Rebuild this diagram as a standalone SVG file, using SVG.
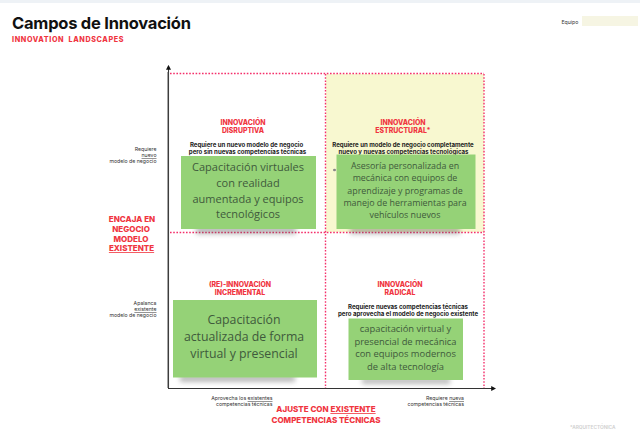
<svg xmlns="http://www.w3.org/2000/svg" width="640" height="437" viewBox="0 0 640 437">
<style>
text{font-family:"Inter","Liberation Sans",sans-serif}
.r{fill:#f0353f;font-weight:800;text-anchor:middle}
.h{font-size:6.9px}
.big{font-size:8px}
.b{fill:#1c1c1c;font-weight:700;font-size:6.1px;text-anchor:middle}
.s{fill:#333;font-size:5.2px;text-anchor:end}
.g{fill:#3f5a3c;font-family:"Open Sans","Noto Sans",sans-serif;text-anchor:middle}
.note{fill:#95d277}
.d{fill:none;stroke:#f4306b;stroke-width:1.4;stroke-dasharray:1.6 1.6}
.ax{fill:none;stroke:#333;stroke-width:1.1}
.sh{fill:#555;opacity:.4;filter:url(#bl)}
</style>
<defs>
<filter id="bl" x="-20%" y="-100%" width="140%" height="300%"><feGaussianBlur stdDeviation="2.6"/></filter>
<marker id="ah" viewBox="0 0 6 6" refX="1" refY="3" markerWidth="5" markerHeight="5" orient="auto" markerUnits="userSpaceOnUse"><path d="M0 0L6 3L0 6Z" fill="#111"/></marker>
</defs>
<rect width="640" height="437" fill="#fff"/>
<rect width="640" height="3" fill="#eef2f6"/>
<g id="header">
<text x="12" y="29" font-size="16.500" font-weight="700" fill="#111" textLength="179">Campos de Innovación</text>
<text x="12" y="42" font-size="7.200" font-weight="800" fill="#f0353f" style="white-space:pre" textLength="111.500">INNOVATION  LANDSCAPES</text>
</g>
<g id="equipo">
<text x="561.500" y="24" font-size="5.200" fill="#333">Equipo</text>
<rect x="582" y="16" width="56" height="10" fill="#f6f5e3"/>
</g>
<rect id="yellow-quadrant" x="326" y="74" width="158" height="158" fill="#f8f8d0"/>
<g id="connectors">
<path class="d" d="M170 73.500H484M170 232.500H484M325.500 74V388M484 74V388"/>
<path class="ax" d="M168.500 388V69" stroke-width="1.300" marker-end="url(#ah)"/>
<path class="ax" d="M168 388.500H492" marker-end="url(#ah)"/>
<path d="M167.700 72V388" stroke="#777" stroke-width=".8"/>
</g>
<g id="quadrant-disruptiva">
<text class="r h" x="243" y="125">INNOVACIÓN</text>
<text class="r h" x="243" y="133">DISRUPTIVA</text>
<text class="b" x="246.500" y="147">Requiere un nuevo modelo de negocio</text>
<text class="b" x="247.500" y="154">pero sin nuevas competencias técnicas</text>
<rect class="sh" x="196" y="226" width="100" height="8"/>
<rect class="note" x="181" y="156" width="135" height="73"/>
<text class="g" font-size="11"><tspan x="248" y="171">Capacitación virtuales</tspan><tspan x="248" y="187">con realidad</tspan><tspan x="248" y="202.500">aumentada y equipos</tspan><tspan x="248" y="218">tecnológicos</tspan></text>
</g>
<g id="quadrant-estructural">
<text class="r h" x="403" y="125">INNOVACIÓN</text>
<text class="r h" x="403" y="133">ESTRUCTURAL*</text>
<text class="b" x="403" y="147">Requiere un modelo de negocio completamente</text>
<text class="b" x="403.500" y="154">nuevo y nuevas competencias tecnológicas</text>
<ellipse cx="334.500" cy="170" rx="1.500" ry="1.200" fill="#888"/>
<rect class="sh" x="350" y="226" width="110" height="8"/>
<rect class="note" x="336.500" y="154.500" width="139" height="74.500"/>
<text class="g" font-size="8.900"><tspan x="405" y="169">Asesoría personalizada en</tspan><tspan x="405" y="181">mecánica con equipos de</tspan><tspan x="405" y="193.500">aprendizaje y programas de</tspan><tspan x="405" y="206">manejo de herramientas para</tspan><tspan x="405" y="218">vehículos nuevos</tspan></text>
</g>
<g id="quadrant-incremental">
<text class="r h" x="240" y="287">(RE)-INNOVACIÓN</text>
<text class="r h" x="240" y="295">INCREMENTAL</text>
<rect class="sh" x="180" y="375" width="115" height="7"/>
<rect class="note" x="173" y="300" width="144" height="77.500"/>
<text class="g" font-size="12.300"><tspan x="244" y="323.500">Capacitación</tspan><tspan x="244" y="341">actualizada de forma</tspan><tspan x="244" y="357.500">virtual y presencial</tspan></text>
</g>
<g id="quadrant-radical">
<text class="r h" x="400" y="287">INNOVACIÓN</text>
<text class="r h" x="400" y="295">RADICAL</text>
<text class="b" x="408" y="309">Requiere nuevas competencias técnicas</text>
<text class="b" x="408" y="316">pero aprovecha el modelo de negocio existente</text>
<rect class="sh" x="362" y="378" width="88" height="6"/>
<rect class="note" x="348.500" y="318.500" width="114.500" height="61.500"/>
<text class="g" font-size="9.400"><tspan x="405.500" y="332">capacitación virtual y</tspan><tspan x="405.500" y="345">presencial de mecánica</tspan><tspan x="405.500" y="357">con equipos modernos</tspan><tspan x="405.500" y="370">de alta tecnología</tspan></text>
</g>
<g id="y-axis-labels">
<text class="s" x="156.500" y="151">Requiere</text>
<text class="s" x="156.500" y="157" text-decoration="underline">nuevo</text>
<text class="s" x="156.500" y="163">modelo de negocio</text>
<text class="s" x="156.500" y="305">Apalanca</text>
<text class="s" x="156.500" y="311" text-decoration="underline">existente</text>
<text class="s" x="156.500" y="317">modelo de negocio</text>
<text class="r big" x="132" y="221.500">ENCAJA EN</text>
<text class="r big" x="131" y="231.500">NEGOCIO</text>
<text class="r big" x="131" y="241.500">MODELO</text>
<text class="r big" x="131.500" y="251" text-decoration="underline">EXISTENTE</text>
</g>
<g id="x-axis-labels">
<text class="s" x="272.500" y="400">Aprovecha los <tspan text-decoration="underline">existentes</tspan></text>
<text class="s" x="272.500" y="406">competencias técnicas</text>
<text class="s" x="464" y="400">Requiere <tspan text-decoration="underline">nueva</tspan></text>
<text class="s" x="464" y="406">competencias técnicas</text>
<text class="r big" x="326" y="412">AJUSTE CON <tspan text-decoration="underline">EXISTENTE</tspan></text>
<text class="r big" x="326" y="422.500">COMPETENCIAS TÉCNICAS</text>
</g>
<text id="footnote" x="570" y="429" font-size="4.800" font-weight="600" fill="#cfcfcf">*ARQUITECTÓNICA</text>
</svg>
